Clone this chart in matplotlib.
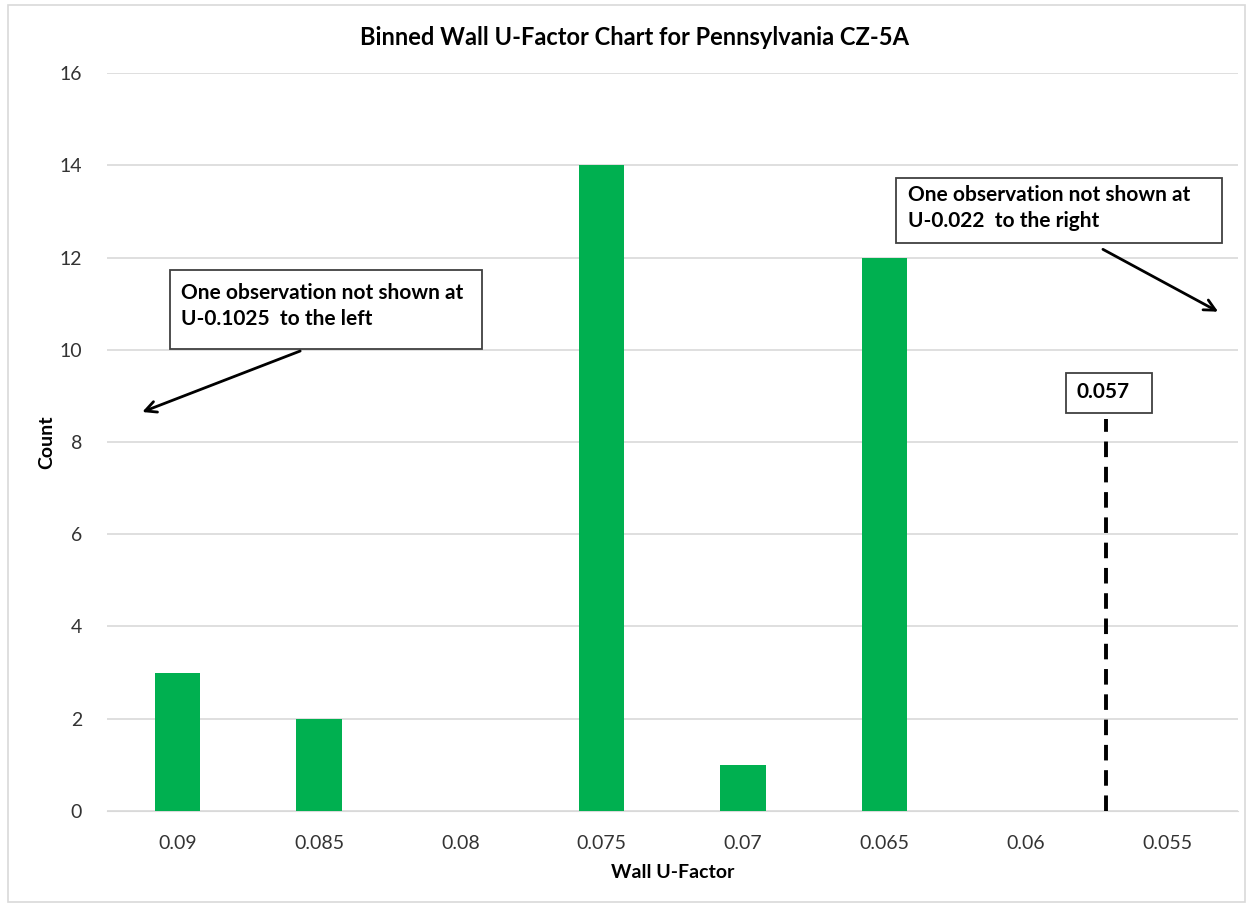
import matplotlib.pyplot as plt
import matplotlib.patches as patches
import numpy as np

# data
u_bins = ['0.09', '0.085', '0.08', '0.075', '0.07', '0.065', '0.06', '0.055']
counts = [3, 2, 0, 14, 1, 12, 0, 0]
target_label = '0.057'
target_line_u = 0.05717   # where the dashed line sits on the bin axis
target_height = 8.5
left_note = 'One observation not shown at\nU-0.1025  to the left'
right_note = 'One observation not shown at\nU-0.022  to the right'

plt.rcParams['font.family'] = ['Lato', 'DejaVu Sans']

fig = plt.figure(figsize=(12.5, 9.05), dpi=100)
ax = fig.add_axes([0.0856, 0.1039, 0.9045, 0.8154])

x = np.arange(len(u_bins))
ax.bar(x, counts, width=0.32, color='#00B050', zorder=3)

ax.set_xlim(-0.5, len(u_bins) - 0.5)
ax.set_ylim(0, 16)
ax.set_yticks(range(0, 17, 2))
ax.set_xticks(x)
ax.set_xticklabels(u_bins)
ax.tick_params(axis='both', length=0, labelsize=14, colors='#333333')
ax.tick_params(axis='x', pad=17)
ax.tick_params(axis='y', pad=18)
ax.grid(axis='y', color='#d9d9d9', linewidth=1.2, zorder=0)
for s in ['top', 'right', 'left']:
    ax.spines[s].set_visible(False)
ax.spines['bottom'].set_color('#d9d9d9')

ax.set_xlabel('Wall U-Factor', fontsize=14, fontweight='bold', labelpad=9)
ax.set_ylabel('Count', fontsize=14, fontweight='bold', labelpad=3)
fig.text(0.508, 0.959, 'Binned Wall U-Factor Chart for Pennsylvania CZ-5A',
         ha='center', va='center', fontsize=17, fontweight='bold')

# position of the dashed line on the reversed bin axis
step = float(u_bins[0]) - float(u_bins[1])
xpos = (float(u_bins[0]) - target_line_u) / step
ax.plot([xpos, xpos], [0, target_height], color='black', lw=2.8,
        linestyle=(0, (4, 2.5)), zorder=4)

def px2d(px, py):
    return ((px - 178) / 141.2, (811 - py) / 46.125)

def note_box(x0, y0, x1, y1, txt, tx, ty):
    a = px2d(x0, y1)
    b = px2d(x1, y0)
    ax.add_patch(patches.Rectangle(a, b[0] - a[0], b[1] - a[1], fill=True,
                                   facecolor='white', edgecolor='#404040',
                                   lw=1.3, zorder=5, clip_on=False))
    p = px2d(tx, ty)
    ax.text(p[0], p[1], txt, fontsize=15, fontweight='bold', ha='left',
            va='top', linespacing=1.35, zorder=6)

note_box(170, 270, 482, 349, left_note, 181, 283)
note_box(896, 178, 1221, 243, right_note, 908, 185)
note_box(1066, 373, 1151, 413, target_label, 1076, 382)

ax.annotate('', xy=px2d(140, 413), xytext=px2d(303, 350),
            arrowprops=dict(arrowstyle='->', color='black', lw=2,
                            mutation_scale=20), zorder=6)
ax.annotate('', xy=px2d(1220, 313), xytext=px2d(1100, 248),
            arrowprops=dict(arrowstyle='->', color='black', lw=2,
                            mutation_scale=20), zorder=6, annotation_clip=False)

fig.patches.append(patches.Rectangle((0.006, 0.003), 0.99, 0.992, fill=False,
                                     edgecolor='#d9d9d9', lw=1.2,
                                     transform=fig.transFigure))

fig.savefig('out.png', dpi=100)
